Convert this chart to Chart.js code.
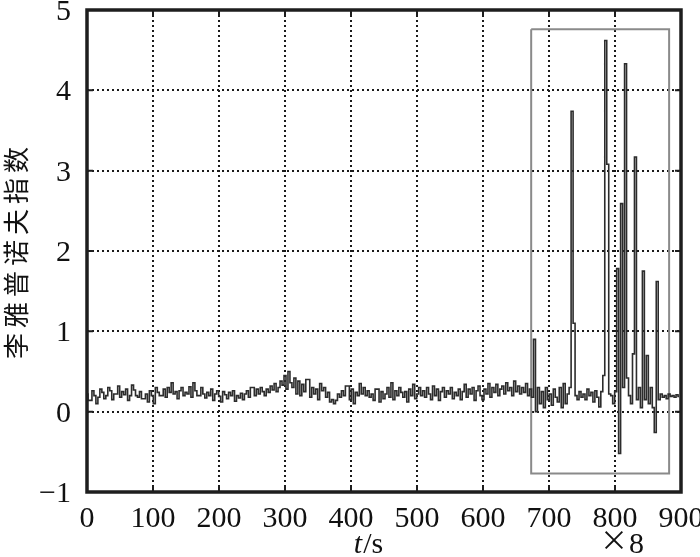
<!DOCTYPE html>
<html><head><meta charset="utf-8">
<script src="https://cdn.jsdelivr.net/npm/chart.js@4/dist/chart.umd.min.js"></script>
<style>html,body{margin:0;padding:0;background:#fff}#wrap{width:700px;height:557px;position:relative}</style>
</head><body><div id="wrap"><canvas id="c" width="700" height="557"></canvas></div>
<script>
// sampling interval of the series (s)
const SAMPLE_STEP = 3;
// Lyapunov exponent values, one every SAMPLE_STEP seconds from t = 0
const lyapunov = [
  0.22,0.14,0.14,0.26,0.20,0.10,0.18,0.28,0.24,0.16,
  0.20,0.30,0.26,0.15,0.22,0.22,0.32,0.18,0.25,0.21,
  0.28,0.14,0.20,0.33,0.27,0.20,0.18,0.25,0.16,0.16,
  0.22,0.12,0.26,0.20,0.10,0.30,0.24,0.20,0.20,0.28,
  0.18,0.30,0.24,0.36,0.22,0.25,0.16,0.26,0.30,0.20,
  0.24,0.22,0.31,0.18,0.36,0.26,0.20,0.20,0.30,0.22,
  0.17,0.24,0.20,0.28,0.14,0.22,0.26,0.19,0.12,0.25,
  0.21,0.16,0.24,0.20,0.26,0.13,0.20,0.17,0.23,0.15,
  0.22,0.26,0.18,0.30,0.30,0.20,0.28,0.22,0.30,0.25,
  0.20,0.28,0.24,0.32,0.27,0.35,0.25,0.30,0.38,0.33,
  0.45,0.28,0.50,0.36,0.30,0.42,0.22,0.38,0.20,0.34,
  0.25,0.40,0.40,0.18,0.30,0.22,0.28,0.15,0.35,0.26,
  0.30,0.18,0.24,0.12,0.15,0.10,0.14,0.22,0.18,0.26,
  0.20,0.32,0.32,0.15,0.28,0.10,0.24,0.20,0.35,0.22,
  0.30,0.20,0.26,0.18,0.22,0.14,0.28,0.28,0.12,0.25,
  0.16,0.22,0.30,0.18,0.36,0.15,0.26,0.20,0.30,0.24,
  0.18,0.25,0.12,0.28,0.20,0.34,0.16,0.22,0.30,0.20,
  0.26,0.18,0.30,0.22,0.15,0.32,0.20,0.28,0.14,0.25,
  0.30,0.18,0.26,0.22,0.30,0.16,0.24,0.20,0.28,0.15,
  0.25,0.34,0.18,0.28,0.22,0.30,0.14,0.26,0.32,0.20,
  0.15,0.28,0.22,0.35,0.18,0.30,0.24,0.34,0.20,0.28,
  0.32,0.22,0.36,0.26,0.30,0.20,0.38,0.25,0.32,0.22,
  0.30,0.24,0.35,0.20,0.28,0.18,0.90,0.00,0.30,0.10,
  0.25,0.05,0.30,0.15,0.22,0.08,0.28,0.18,0.12,0.30,
  0.05,0.35,0.10,0.22,0.30,3.74,1.10,0.20,0.15,0.25,
  0.18,0.22,0.15,0.28,0.20,0.24,0.12,0.26,0.18,0.06,
  0.25,0.45,4.62,3.08,0.22,0.20,0.10,0.25,1.78,-0.52,
  2.59,0.30,4.33,0.42,0.20,0.10,0.72,3.17,0.15,0.30,
  0.05,1.75,0.15,0.70,0.10,0.30,0.05,-0.26,1.62,0.15,
  0.22,0.18,0.20,0.16,0.22,0.19,0.20,0.18,0.21,0.19
];
// highlight box corners (t, value)
const boxT = [673, 882, 882, 673, 673];
const boxV = [4.76, 4.76, -0.77, -0.77, 4.76];
// ticks
const xTicks = [0,100,200,300,400,500,600,700,800,900];
const yTicks = [-1,0,1,2,3,4,5];
const yTickLabels = ['\u22121','0','1','2','3','4','5'];
const yTitle = '李雅普诺夫指数';
const xTitleItalic = 't';
const xTitleRest = '/s';
const xNoteSign = '\u00D7';
const xNoteNum = '8';

const seriesPts = lyapunov.map((v, i) => ({x: i * SAMPLE_STEP, y: v}));
const boxPts = boxT.map((t, i) => ({x: t, y: boxV[i]}));

const SERIF = '"Liberation Serif", "Times New Roman", serif';

const decor = {
  id: 'decor',
  afterDraw(chart) {
    const ctx = chart.ctx, a = chart.chartArea;
    const xs = chart.scales.x, ys = chart.scales.y;
    ctx.save();
    ctx.strokeStyle = '#1e1e1e';
    ctx.lineWidth = 3.5;
    ctx.strokeRect(a.left, a.top, a.right - a.left, a.bottom - a.top);
    ctx.lineWidth = 2;
    xTicks.forEach(t => {
      const px = xs.getPixelForValue(t);
      ctx.beginPath();
      ctx.moveTo(px, a.bottom); ctx.lineTo(px, a.bottom - 6);
      ctx.moveTo(px, a.top); ctx.lineTo(px, a.top + 6);
      ctx.stroke();
    });
    yTicks.forEach(t => {
      const py = ys.getPixelForValue(t);
      ctx.beginPath();
      ctx.moveTo(a.left, py); ctx.lineTo(a.left + 6, py);
      ctx.moveTo(a.right, py); ctx.lineTo(a.right - 6, py);
      ctx.stroke();
    });
    ctx.fillStyle = '#111';
    ctx.font = '30px ' + SERIF;
    ctx.textAlign = 'center';
    ctx.textBaseline = 'alphabetic';
    xTicks.forEach(t => {
      ctx.fillText(String(t), xs.getPixelForValue(t), a.bottom + 35);
    });
    ctx.textAlign = 'right';
    yTicks.forEach((t, i) => {
      ctx.fillText(yTickLabels[i], 71, ys.getPixelForValue(t) + 10);
    });
    ctx.textAlign = 'left';
    ctx.font = 'italic 30px ' + SERIF;
    const w1 = ctx.measureText(xTitleItalic).width;
    ctx.font = '30px ' + SERIF;
    const w2 = ctx.measureText(xTitleRest).width;
    const cx = 368, by = 553;
    let sx = cx - (w1 + w2) / 2;
    ctx.font = 'italic 30px ' + SERIF;
    ctx.fillText(xTitleItalic, sx, by);
    ctx.font = '30px ' + SERIF;
    ctx.fillText(xTitleRest, sx + w1 + 1, by);
    ctx.font = '28px "Noto Sans CJK SC", sans-serif';
    ctx.fillText(xNoteSign, 600, by - 2);
    ctx.font = '30px ' + SERIF;
    ctx.fillText(xNoteNum, 629, by);
    ctx.translate(16, 253);
    ctx.rotate(-Math.PI / 2);
    ctx.font = '26px "Noto Sans CJK SC", sans-serif';
    ctx.textAlign = 'center';
    ctx.textBaseline = 'middle';
    const chars = Array.from(yTitle);
    chars.forEach((ch, i) => {
      ctx.fillText(ch, (i - (chars.length - 1) / 2) * 31, 0);
    });
    ctx.restore();
  }
};

new Chart(document.getElementById('c'), {
  type: 'line',
  data: {
    datasets: [
      {
        data: seriesPts,
        borderColor: '#2c2c2c',
        borderWidth: 1.6,
        pointRadius: 0,
        stepped: 'middle',
        fill: false,
        order: 1
      },
      {
        data: boxPts,
        borderColor: '#8a8a8a',
        borderWidth: 2,
        pointRadius: 0,
        tension: 0,
        fill: false,
        order: 2
      }
    ]
  },
  options: {
    responsive: false,
    animation: false,
    devicePixelRatio: 1,
    layout: { padding: { left: 87, right: 19, top: 10, bottom: 65 } },
    plugins: { legend: { display: false }, tooltip: { enabled: false } },
    scales: {
      x: {
        type: 'linear', min: 0, max: 900,
        afterBuildTicks: s => { s.ticks = xTicks.map(v => ({value: v})); },
        ticks: { display: false },
        grid: { color: '#1a1a1a', lineWidth: 2, drawTicks: false },
        border: { display: false, dash: [2, 3] }
      },
      y: {
        type: 'linear', min: -1, max: 5,
        afterBuildTicks: s => { s.ticks = yTicks.map(v => ({value: v})); },
        ticks: { display: false },
        grid: { color: '#1a1a1a', lineWidth: 2, drawTicks: false },
        border: { display: false, dash: [2, 3] }
      }
    }
  },
  plugins: [decor]
});
</script>
</body></html>
